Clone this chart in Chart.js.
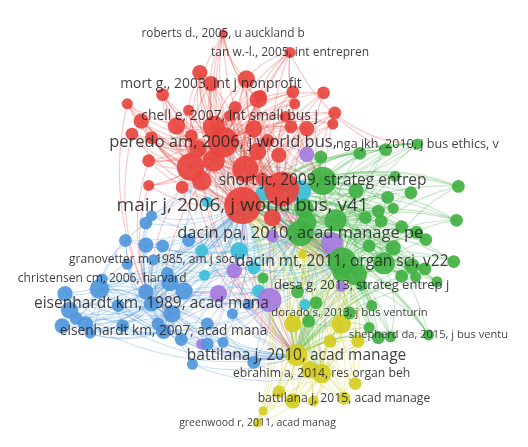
<!DOCTYPE html>
<html>
<head>
<meta charset="utf-8">
<script src="https://cdn.jsdelivr.net/npm/chart.js@4.4.0/dist/chart.umd.min.js"></script>
<style>
html, body { margin: 0; padding: 0; background: #fff; }
canvas { display: block; }
</style>
</head>
<body>
<canvas id="netChart" width="528" height="447"></canvas>
<script>
// co-citation map: clusters, node map coordinates, citation weights, links
var clusters = ['cluster 1', 'cluster 2', 'cluster 3', 'cluster 4', 'cluster 5', 'cluster 6'];

var nodeX = [
    241, 283, 220, 303, 348, 143, 299, 327, 185, 244,   // 0-9
    303, 270, 156, 341, 326, 220, 292, 207, 227, 429,   // 10-19
    145, 90, 369, 356, 441, 350, 257, 195, 245, 155,    // 20-29
    258, 295, 297, 117, 132, 170, 210, 253, 293, 122,   // 30-39
    183, 233, 143, 193, 257, 280, 140, 210, 197, 140,   // 40-49
    176, 328, 340, 338, 310, 273, 268, 262, 186, 325,   // 50-59
    367, 395, 405, 473, 471, 468, 363, 397, 422, 387,   // 60-69
    307, 373, 390, 403, 412, 428, 438, 377, 403, 393,   // 70-79
    363, 423, 437, 412, 347, 450, 300, 263, 320, 312,   // 80-89
    380, 387, 400, 377, 427, 310, 137, 143, 115, 137,   // 90-99
    155, 183, 117, 160, 50, 87, 137, 163, 178, 55,      // 100-109
    62, 107, 165, 47, 72, 77, 112, 150, 175, 203,       // 110-119
    230, 247, 203, 187, 253, 220, 197, 200, 237, 253,   // 120-129
    258, 263, 203, 308, 310, 337, 273, 232, 215, 197,   // 130-139
    347, 295, 347, 365, 313, 362, 280, 295, 317, 335,   // 140-149
    305, 263, 287, 260                                  // 150-153
];
var nodeY = [
    204, 186, 135, 234, 265, 311, 367, 177, 162, 164,
    188, 307, 341, 220, 387, 17, 37, 71, 106, 137,
    263, 284, 291, 321, 345, 414, 441, 59, 66, 83,
    88, 80, 93, 93, 112, 117, 118, 120, 118, 126,
    100, 97, 130, 142, 145, 149, 155, 155, 177, 182,
    184, 81, 103, 115, 120, 217, 133, 175, 128, 151,
    147, 143, 172, 183, 220, 265, 188, 195, 190, 210,
    207, 217, 221, 207, 227, 233, 241, 248, 250, 267,
    279, 270, 273, 281, 277, 287, 298, 283, 310, 330,
    313, 348, 347, 337, 282, 222, 223, 215, 242, 247,
    248, 242, 268, 278, 300, 295, 298, 288, 297, 318,
    327, 313, 322, 335, 333, 343, 335, 333, 350, 333,
    322, 312, 355, 377, 375, 353, 253, 280, 253, 272,
    297, 190, 200, 312, 148, 245, 237, 275, 300, 355,
    292, 333, 333, 352, 383, 398, 407, 417, 417, 352,
    257, 428, 107, 85
];
var nodeWeight = [
    100, 89, 68, 50, 58, 17, 35, 58, 55, 50,
    35, 42, 17, 35, 28, 6, 9, 17, 9, 9,
    9, 9, 9, 12, 9, 12, 6, 17, 22, 12,
    22, 12, 9, 9, 17, 22, 35, 22, 12, 12,
    9, 12, 12, 22, 22, 17, 12, 35, 28, 9,
    12, 12, 12, 9, 17, 22, 12, 12, 12, 12,
    12, 12, 9, 12, 12, 12, 17, 12, 12, 12,
    28, 12, 12, 9, 12, 12, 12, 12, 17, 35,
    35, 17, 12, 12, 22, 9, 12, 9, 12, 12,
    9, 12, 9, 9, 9, 28, 12, 9, 12, 17,
    12, 12, 9, 12, 17, 28, 17, 22, 22, 22,
    12, 12, 22, 17, 17, 9, 12, 12, 12, 12,
    9, 9, 12, 9, 12, 9, 12, 9, 22, 12,
    12, 17, 9, 9, 17, 35, 12, 17, 22, 9,
    9, 22, 28, 12, 22, 12, 12, 17, 9, 12,
    6, 6, 9, 12
];
var nodeCluster = [
    0, 0, 0, 1, 1, 2, 3, 1, 0, 0,
    5, 4, 2, 1, 3, 0, 0, 0, 0, 1,
    2, 2, 1, 1, 1, 3, 3, 0, 0, 0,
    0, 0, 0, 0, 0, 0, 0, 0, 0, 0,
    0, 0, 0, 0, 0, 0, 0, 0, 0, 0,
    0, 0, 0, 0, 0, 0, 0, 0, 0, 1,
    1, 1, 1, 1, 1, 1, 1, 1, 1, 1,
    1, 1, 1, 1, 1, 1, 1, 1, 1, 1,
    1, 1, 1, 1, 1, 1, 1, 1, 1, 1,
    1, 1, 1, 1, 1, 1, 2, 2, 2, 2,
    2, 2, 2, 2, 2, 2, 2, 2, 2, 2,
    2, 2, 2, 2, 2, 2, 2, 2, 2, 2,
    2, 2, 2, 2, 2, 2, 5, 5, 5, 5,
    5, 5, 5, 5, 4, 4, 4, 4, 4, 4,
    4, 3, 3, 3, 3, 3, 3, 3, 3, 3,
    3, 3, 0, 0
];
var nodeLinks = [
    [1,2,3,4,6,5,8,9,11,7,13,12], [2,3,4,7,9,8,6,10], [8,9,3,4,7,6,17,47,36], [4,7,13,6,5,11,80],
    [7,13,6,14,11,12,79], [12,105,6,3,4,8], [14,11,3,12,25,142], [13,19,9,66,61],
    [9,17,18,4,6,47,36], [17,18,3,4,13,47], [0,2,3,4,6], [6,5,12,3],
    [105,6,4,0,112], [4,6,69,79], [6,3,4,0,25], [2,0,8,9,1,28,30,7,36],
    [2,0,9,1,28,7,61,30,54], [0,1,2,8,27,36], [0,1,2,4,36], [0,1,3,4,7,13,61],
    [5,0,3,12,4], [5,0,12,3,105], [0,1,3,4,6,7], [0,3,4,6,14],
    [0,3,4,6,7,22], [6,14,0,3,4,11], [6,14,0,3,11], [0,2,8,9,1,36,47],
    [0,2,9,1,3,36,30], [0,2,8,1,36,47], [0,2,9,1,4,47,44], [0,1,2,9,7,36],
    [0,1,2,3,47], [0,2,8,5,36,47], [0,2,8,1,47,43], [0,2,8,9,36,47],
    [0,1,2,3,4,47,43], [0,1,2,3,36,47], [0,1,2,7,47], [0,2,8,5,36,43],
    [0,2,1,36,47], [0,1,2,4,36,47], [0,2,8,3,47], [0,1,2,3,6,47],
    [0,1,2,3,4,47], [0,1,2,7,36], [0,2,8,5,36,43], [0,1,2,3,6,9],
    [0,1,2,6,12,47], [0,2,8,5,47], [0,2,8,5,6,47], [0,1,2,7,36],
    [0,1,2,7,19,47], [0,1,2,4,36], [0,1,2,3,7,47], [0,1,3,4,6],
    [0,1,2,3,47], [0,1,2,4,8], [0,2,8,1,47], [0,1,3,4,7,13],
    [0,1,3,7,13], [0,1,3,4,7,80], [0,3,7,4,13], [0,1,3,4,7,79],
    [0,1,3,4,13,80], [0,3,4,6,79], [0,3,4,7,13], [0,1,3,4,79],
    [0,3,4,7,80], [0,3,4,1,13], [0,1,3,4,2], [0,3,4,7,79],
    [0,3,4,6,80], [0,3,7,13], [0,3,4,6,79], [0,3,4,1,80],
    [0,3,4,6,13], [0,3,4,6,7], [0,3,4,6,1], [0,3,4,6,1],
    [0,3,4,6,1], [0,3,4,6,79], [0,3,4,1,80], [0,3,4,6,13],
    [0,3,4,6,79], [0,3,4,6,80], [0,3,4,6,14], [0,3,4,6,11],
    [0,3,4,6,14], [0,3,6,14,142], [0,3,4,6,80], [0,3,4,6,14],
    [0,3,4,6,79], [0,3,4,6,142], [0,3,4,6,80], [0,1,3,4,6],
    [5,12,0,2,105], [5,0,2,3,8], [5,12,0,3,105], [5,12,0,3,112],
    [5,12,0,4,107], [5,12,0,3,11], [5,12,0,105], [5,12,0,3,105],
    [5,12,105,0,112], [12,0,3,6,4], [5,12,0,6,105], [5,12,0,3,105],
    [5,12,0,4,11], [5,12,105,0,112], [5,12,0,105], [5,12,0,6,105],
    [5,12,0,6,105], [5,12,105,0,107], [5,12,0,6,105], [5,12,0,105],
    [5,12,0,6,105], [5,12,0,6,112], [5,12,6,0,11], [5,12,6,0,11],
    [5,6,0,3,11], [5,6,0,3,4], [5,12,6,11], [5,12,6,0,14],
    [5,6,0,14,11], [5,12,6,0], [0,3,5,10,2], [0,3,5,10,12],
    [0,3,4,10,2], [0,3,4,10,6], [0,3,4,6,5], [0,1,3,4,2],
    [0,1,2,5,8], [0,3,4,6,14], [0,1,3,7,2], [0,3,4,6,7],
    [0,1,3,4,6], [0,3,5,6,12], [0,5,6,3,12], [5,6,0,12],
    [0,3,4,6,14], [6,14,0,3,4,11], [6,14,0,3,4,13], [6,14,0,3,4],
    [6,14,0,3,11], [6,14,0,3,4], [6,14,0,3,11], [6,14,0,3,4],
    [6,14,0,4,142], [6,14,0,3,4,11], [0,3,4,6,11], [6,14,0,3,142],
    [0,1,2,9,36], [0,2,9,1,36]
];
var labelNode = [15, 16, 17, 18, 2, 19, 7, 0, 3, 20, 4, 21, 22, 5, 23, 12, 24, 6, 14, 25, 26];
var labelText = [
    'roberts d., 2005, u auckland b',
    'tan w.-l., 2005, int entrepren',
    'mort g., 2003, int j nonprofit',
    'chell e, 2007, int small bus j',
    'peredo am, 2006, j world bus,',
    'nga jkh, 2010, j bus ethics, v',
    'short jc, 2009, strateg entrep',
    'mair j, 2006, j world bus, v41',
    'dacin pa, 2010, acad manage pe',
    'granovetter m, 1985, am j soci',
    'dacin mt, 2011, organ sci, v22',
    'christensen cm, 2006, harvard',
    'desa g, 2013, strateg entrep j',
    'eisenhardt km, 1989, acad mana',
    'dorado s, 2013, j bus venturin',
    'eisenhardt km, 2007, acad mana',
    'shepherd da, 2015, j bus ventu',
    'battilana j, 2010, acad manage',
    'ebrahim a, 2014, res organ beh',
    'battilana j, 2015, acad manage',
    'greenwood r, 2011, acad manag'
];

var colors = ['#e8453f', '#41b144', '#5097dc', '#d5cd22', '#a57be0', '#3cbfd9'];
var labelSizes = [11.8, 12, 13.9, 13.9, 16.5, 12.6, 15.5, 19, 16.5, 12, 15.5, 12, 13, 15.5, 11.3, 13.7, 11.1, 15.5, 12.2, 12.2, 10.5];

function rgba(hex, a) {
    var n = parseInt(hex.slice(1), 16);
    return 'rgba(' + (n >> 16) + ',' + ((n >> 8) & 255) + ',' + (n & 255) + ',' + a + ')';
}

var datasets = clusters.map(function (name, c) {
    var pts = [];
    for (var i = 0; i < nodeX.length; i++) {
        if (nodeCluster[i] === c) {
            pts.push({ x: nodeX[i], y: nodeY[i], r: 1.85 * Math.sqrt(nodeWeight[i]), w: nodeWeight[i] });
        }
    }
    pts.sort(function (a, b) { return a.w - b.w; });
    return {
        label: name,
        data: pts,
        backgroundColor: rgba(colors[c], 0.92),
        borderWidth: 0,
        clip: false
    };
});

var linkPlugin = {
    id: 'links',
    beforeDatasetsDraw: function (chart) {
        var ctx = chart.ctx, xs = chart.scales.x, ys = chart.scales.y;
        ctx.save();
        ctx.lineWidth = 1.1;
        for (var i = 0; i < nodeLinks.length; i++) {
            ctx.strokeStyle = rgba(colors[nodeCluster[i]], 0.3);
            nodeLinks[i].forEach(function (j) {
                var x1 = xs.getPixelForValue(nodeX[i]), y1 = ys.getPixelForValue(nodeY[i]);
                var x2 = xs.getPixelForValue(nodeX[j]), y2 = ys.getPixelForValue(nodeY[j]);
                var cx = (x1 + x2) / 2 - (y2 - y1) * 0.18;
                var cy = (y1 + y2) / 2 + (x2 - x1) * 0.18;
                ctx.beginPath();
                ctx.moveTo(x1, y1);
                ctx.quadraticCurveTo(cx, cy, x2, y2);
                ctx.stroke();
            });
        }
        ctx.restore();
    }
};

var labelPlugin = {
    id: 'nodeLabels',
    afterDatasetsDraw: function (chart) {
        var ctx = chart.ctx, xs = chart.scales.x, ys = chart.scales.y;
        ctx.save();
        ctx.textAlign = 'center';
        ctx.textBaseline = 'middle';
        ctx.fillStyle = 'rgba(35,35,35,0.86)';
        labelNode.forEach(function (n, k) {
            ctx.font = labelSizes[k] + 'px "Open Sans"';
            ctx.fillText(labelText[k], xs.getPixelForValue(nodeX[n]), ys.getPixelForValue(nodeY[n]));
        });
        ctx.restore();
    }
};

var net = document.getElementById('netChart').getContext('2d');
var myNetChart = new Chart(net, {
    type: 'bubble',
    data: { datasets: datasets },
    options: {
        responsive: false,
        animation: false,
        events: [],
        layout: { padding: 0 },
        plugins: { legend: { display: false }, tooltip: { enabled: false } },
        scales: {
            x: { type: 'linear', min: 0, max: 528, display: false },
            y: { type: 'linear', min: 0, max: 447, reverse: true, display: false }
        }
    },
    plugins: [linkPlugin, labelPlugin]
});
</script>
</body>
</html>
